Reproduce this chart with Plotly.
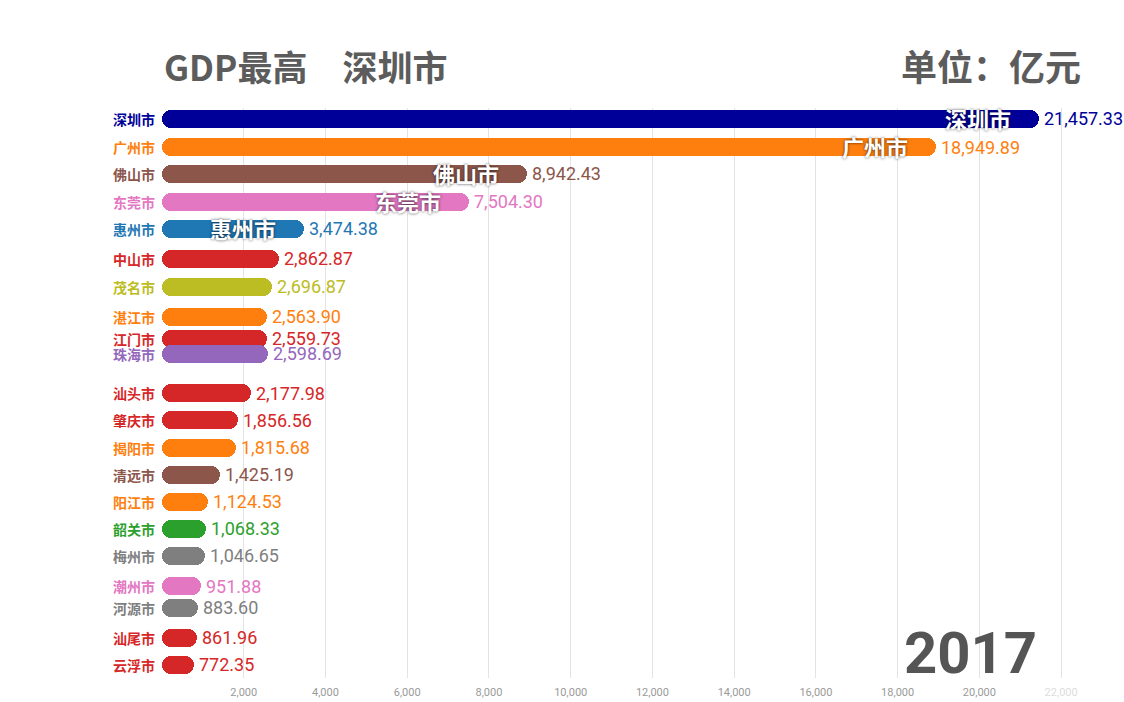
import plotly.graph_objects as go

# ---- data (one frame of a bar-chart race, year 2017, unit: 亿元) ----
cities = ["深圳市", "广州市", "佛山市", "东莞市", "惠州市", "中山市", "茂名市",
          "湛江市", "江门市", "珠海市", "汕头市", "肇庆市", "揭阳市", "清远市",
          "阳江市", "韶关市", "梅州市", "潮州市", "河源市", "汕尾市", "云浮市"]
values = [21457.33, 18949.89, 8942.43, 7504.30, 3474.38, 2862.87, 2696.87,
          2563.90, 2559.73, 2598.69, 2177.98, 1856.56, 1815.68, 1425.19,
          1124.53, 1068.33, 1046.65, 951.88, 883.60, 861.96, 772.35]
# animated (fractional) rank of each city in this frame
rank_pos = [0, 1.03, 2.01, 3.04, 4.03, 5.13, 6.15, 7.25, 8.06, 8.61, 10.04,
            11.03, 12.05, 13.04, 14.03, 15.02, 16.01, 17.11, 17.91, 19.01, 20.0]
year = "2017"
title_text = "GDP最高　深圳市"
unit_text = "单位：亿元"
tick_values = [2000, 4000, 6000, 8000, 10000, 12000, 14000, 16000, 18000, 20000, 22000]
n_inbar = 5

# ---- styles ----
colors = ["#000099", "#ff7f0e", "#8c564b", "#e377c2", "#1f77b4", "#d62728", "#bcbd22",
          "#ff7f0e", "#d62728", "#9467bd", "#d62728", "#d62728", "#ff7f0e", "#8c564b",
          "#ff7f0e", "#2ca02c", "#7f7f7f", "#e377c2", "#7f7f7f", "#d62728", "#d62728"]
FONT = "Roboto, Noto Sans CJK SC, sans-serif"
CJK = "Noto Sans CJK SC, sans-serif"
BAR_W = 0.66
X_MAX = 23000

fig = go.Figure()
# an explicit base makes plotly round both ends of each bar (pill shape)
fig.add_trace(go.Bar(x=values, base=[0] * len(values), y=rank_pos, orientation="h",
                     width=BAR_W,
                     marker=dict(color=colors, cornerradius=9, line=dict(width=0)),
                     hoverinfo="skip", showlegend=False))

annotations = []
for c, v, r, col in zip(cities, values, rank_pos, colors):
    annotations.append(dict(x=0, y=r, xref="x", yref="y", text=c, showarrow=False,
                            xanchor="right", xshift=-5,
                            font=dict(family=CJK, size=14, color=col, weight="bold")))
    annotations.append(dict(x=v, y=r, xref="x", yref="y", text=f"{v:,.2f}", showarrow=False,
                            xanchor="left", xshift=3,
                            font=dict(family=FONT, size=18, color=col)))
for c, v, r in list(zip(cities, values, rank_pos))[:n_inbar]:
    annotations.append(dict(x=v, y=r, xref="x", yref="y", text=c, showarrow=False,
                            xanchor="right", xshift=-26, yshift=1,
                            font=dict(family=CJK, size=22, color="white", weight="bold",
                                      shadow="0px 0px 3px rgba(0,0,0,0.75)")))
annotations.append(dict(x=0, y=1, xref="paper", yref="paper", text=title_text,
                        showarrow=False, xanchor="left", yanchor="middle", yshift=43,
                        font=dict(family=CJK, size=35, color="#5c5c5c", weight="bold")))
annotations.append(dict(x=1, y=1, xref="paper", yref="paper", text=unit_text,
                        showarrow=False, xanchor="right", yanchor="middle", yshift=43, xshift=-19,
                        font=dict(family=CJK, size=36, color="#5c5c5c", weight="bold")))
annotations.append(dict(x=0.86, y=0.044, xref="paper", yref="paper", text=year,
                        showarrow=False, xanchor="center", yanchor="middle",
                        font=dict(family=FONT, size=58, color="#555555", weight="bold")))

tick_text = [f"{t:,}" for t in tick_values]
tick_text[-1] = f"<span style='color:#dddddd'>{tick_text[-1]}</span>"

fig.update_layout(
    width=1124, height=702,
    margin=dict(l=162, r=22, t=108, b=24),
    paper_bgcolor="white", plot_bgcolor="white",
    barmode="overlay", bargap=0,
    annotations=annotations,
    xaxis=dict(range=[0, X_MAX], tickvals=[0] + tick_values, ticktext=[""] + tick_text,
               showgrid=True, gridcolor="#e3e3e3", gridwidth=1,
               zeroline=False, showline=False, ticks="outside", ticklen=4,
               tickcolor="rgba(0,0,0,0)", automargin=False,
               tickfont=dict(family=FONT, size=11, color="#9a9a9a")),
    yaxis=dict(range=[20.48, -0.40], showticklabels=False, showgrid=False,
               zeroline=False, showline=False, ticks="", automargin=False),
)

fig.write_html("out.html")
